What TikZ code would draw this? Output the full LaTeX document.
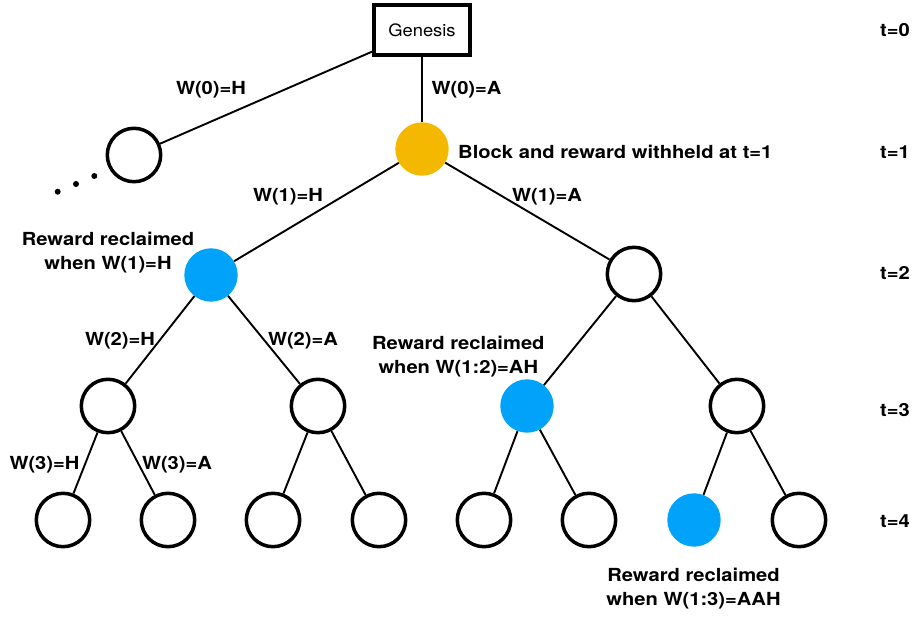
\documentclass[tikz,border=0pt]{standalone}
\usepackage{fontspec}
\setmainfont{TeX Gyre Heros}
\newfontfamily\lblfont[FakeStretch=1.12]{TeX Gyre Heros}
\newfontfamily\genfont[FakeStretch=1.08]{TeX Gyre Heros}
\definecolor{gold}{HTML}{F5B800}
\definecolor{skyblue}{HTML}{00A2FA}
\begin{document}
\begin{tikzpicture}[x=1pt,y=-1pt,
  blk/.style={circle,minimum size=53.4pt,inner sep=0pt},
  open/.style={blk,draw=black,line width=3.5pt,fill=white},
  gold node/.style={blk,fill=gold},
  blue node/.style={blk,fill=skyblue},
  edge/.style={line width=1.9pt},
  lbl/.style={font=\lblfont\fontsize{18}{24}\selectfont\bfseries,inner sep=0pt,align=center},
  dotn/.style={circle,fill=black,minimum size=6pt,inner sep=0pt}]
\useasboundingbox (0,0) rectangle (919,617);
% nodes
\node[draw,line width=3.8pt,minimum width=96pt,minimum height=50pt,inner sep=0pt,font=\genfont\fontsize{17}{20}\selectfont] (G) at (422,30) {Genesis};
\node[open] (n1L) at (134,155) {};
\node[gold node] (n1) at (422,149) {};
\node[blue node] (n2a) at (211,275) {};
\node[open] (n2b) at (634,274) {};
\node[open] (n3a) at (108,406) {};
\node[open] (n3b) at (318,406) {};
\node[blue node] (n3c) at (527,406) {};
\node[open] (n3d) at (737,406) {};
\node[open] (n4a) at (63,520) {};
\node[open] (n4b) at (168,520) {};
\node[open] (n4c) at (273,520) {};
\node[open] (n4d) at (379,520) {};
\node[open] (n4e) at (484,520) {};
\node[open] (n4f) at (589,520) {};
\node[blue node] (n4g) at (694,520) {};
\node[open] (n4h) at (799,520) {};
\node[dotn] (d1) at (57.7,191.7) {};
\node[dotn] (d2) at (76,184) {};
\node[dotn] (d3) at (94.3,176) {};
% edges
\draw[edge] (G) -- (n1L);
\draw[edge] (G) -- (n1);
\draw[edge] (n1) -- (n2a);
\draw[edge] (n1) -- (n2b);
\draw[edge] (n2a) -- (n3a);
\draw[edge] (n2a) -- (n3b);
\draw[edge] (n2b) -- (n3c);
\draw[edge] (n2b) -- (n3d);
\draw[edge] (n3a) -- (n4a);
\draw[edge] (n3a) -- (n4b);
\draw[edge] (n3b) -- (n4c);
\draw[edge] (n3b) -- (n4d);
\draw[edge] (n3c) -- (n4e);
\draw[edge] (n3c) -- (n4f);
\draw[edge] (n3d) -- (n4g);
\draw[edge] (n3d) -- (n4h);
% labels
\node[lbl] (l0h) at (211,90) {W(0)=H};
\node[lbl] (l0a) at (466.5,90) {W(0)=A};
\node[lbl,anchor=west] (lw) at (458,152) {Block and reward withheld at t=1};
\node[lbl] (l1h) at (288,197) {W(1)=H};
\node[lbl] (l1a) at (547,197) {W(1)=A};
\node[lbl] (r1) at (108,253) {Reward reclaimed\\when W(1)=H};
\node[lbl] (l2h) at (120,341) {W(2)=H};
\node[lbl] (l2a) at (303,341) {W(2)=A};
\node[lbl] (r2) at (458.3,356.5) {Reward reclaimed\\when W(1:2)=AH};
\node[lbl] (l3h) at (44.5,465) {W(3)=H};
\node[lbl] (l3a) at (177,465) {W(3)=A};
\node[lbl] (r3) at (693.5,589) {Reward reclaimed\\when W(1:3)=AAH};
% time labels
\node[lbl] (t0) at (895,30) {t=0};
\node[lbl] (t1) at (895,152) {t=1};
\node[lbl] (t2) at (895,273) {t=2};
\node[lbl] (t3) at (895,410) {t=3};
\node[lbl] (t4) at (895,521) {t=4};
\end{tikzpicture}
\end{document}
